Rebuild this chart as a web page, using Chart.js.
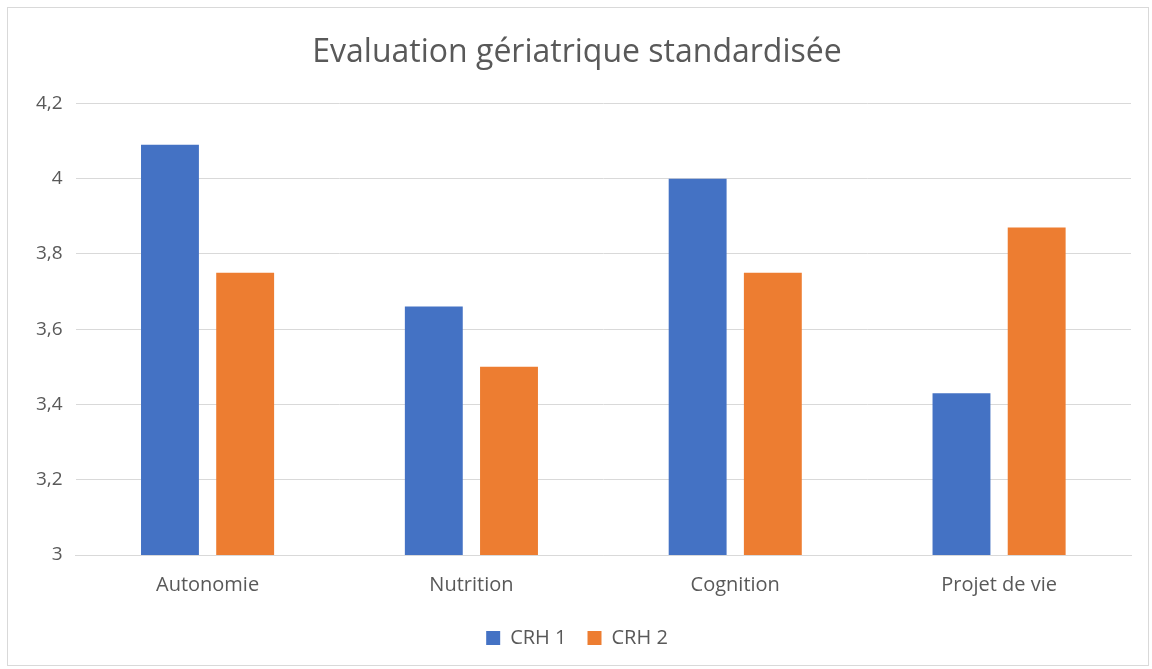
<!DOCTYPE html>
<html>
<head>
<meta charset="utf-8">
<script src="https://cdn.jsdelivr.net/npm/chart.js@4"></script>
<style>
  body { margin: 0; background: #fff; }
  #wrap { position: absolute; left: 7px; top: 7px; width: 1142px; height: 659px; border: 1px solid #d9d9d9; box-sizing: border-box; }
</style>
</head>
<body>
<div id="wrap"><canvas id="myChart"></canvas></div>
<script>
var categories = ['Autonomie', 'Nutrition', 'Cognition', 'Projet de vie'];
var crh1 = [4.09, 3.66, 4.0, 3.43];
var crh2 = [3.75, 3.5, 3.75, 3.87];
var seriesNames = ['CRH 1', 'CRH 2'];

var ctx = document.getElementById('myChart').getContext('2d');
var myChart = new Chart(ctx, {
    type: 'bar',
    data: {
        labels: categories,
        datasets: [{
            label: seriesNames[0],
            data: crh1,
            backgroundColor: '#4472c4'
        }, {
            label: seriesNames[1],
            data: crh2,
            backgroundColor: '#ed7d31'
        }]
    },
    options: {
        responsive: true,
        maintainAspectRatio: false,
        animation: false,
        layout: { padding: { left: 15, right: 17, top: 20, bottom: 7 } },
        datasets: { bar: { categoryPercentage: 0.57, barPercentage: 0.77 } },
        plugins: {
            title: {
                display: true,
                text: 'Evaluation gériatrique standardisée',
                color: '#595959',
                font: { family: 'Open Sans', size: 32, weight: 'normal' },
                padding: { top: 6, bottom: 31 }
            },
            legend: {
                position: 'bottom',
                labels: {
                    color: '#595959',
                    font: { family: 'Open Sans', size: 20 },
                    boxWidth: 14,
                    boxHeight: 14,
                    padding: 21
                }
            },
            tooltip: { enabled: false }
        },
        scales: {
            x: {
                grid: { display: false },
                border: { color: '#d9d9d9', width: 1 },
                ticks: { color: '#595959', font: { family: 'Open Sans', size: 20 }, padding: 10 }
            },
            y: {
                min: 3,
                max: 4.2,
                grid: { color: '#d9d9d9', drawTicks: false },
                border: { display: false },
                ticks: {
                    stepSize: 0.2,
                    color: '#595959',
                    font: { family: 'Open Sans', size: 19 },
                    padding: 13,
                    callback: function (v) {
                        return (Math.round(v * 10) / 10).toString().replace('.', ',');
                    }
                }
            }
        }
    }
});
</script>
</body>
</html>
